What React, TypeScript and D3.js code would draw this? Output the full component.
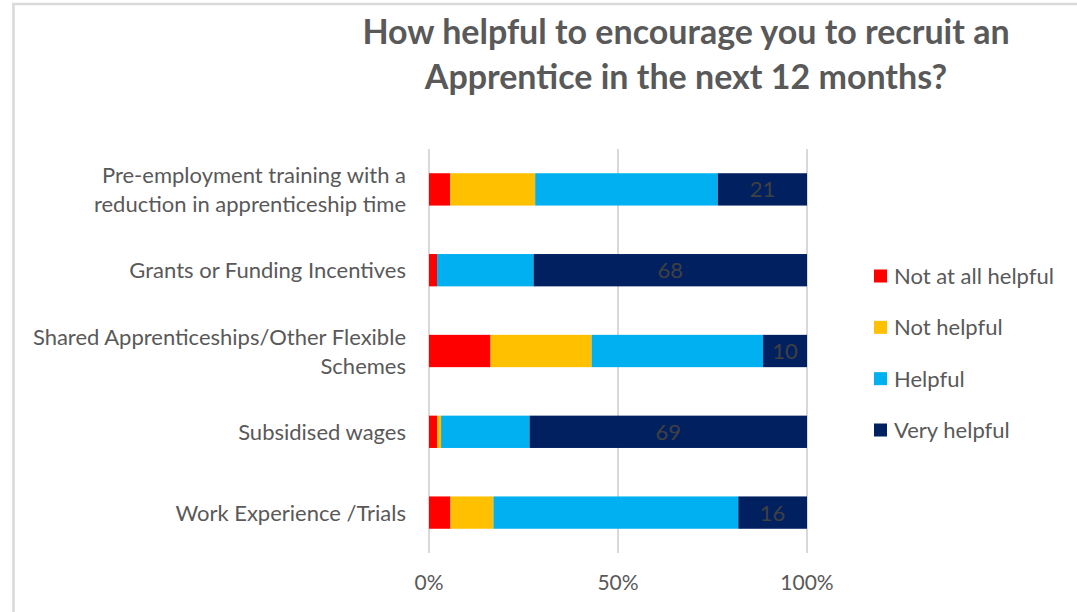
import React from 'react';
import * as d3 from 'd3';

// survey answers (counts) per incentive
const categories = [
  'Pre-employment training with a reduction in apprenticeship time',
  'Grants or Funding Incentives',
  'Shared Apprenticeships/Other Flexible Schemes',
  'Subsidised wages',
  'Work Experience /Trials',
];
const categoryLines = [
  ['Pre-employment training with a', 'reduction in apprenticeship time'],
  ['Grants or Funding Incentives'],
  ['Shared Apprenticeships/Other Flexible', 'Schemes'],
  ['Subsidised wages'],
  ['Work Experience /Trials'],
];
const seriesNames = ['Not at all helpful', 'Not helpful', 'Helpful', 'Very helpful'];
const notAtAllHelpful = [5, 2, 14, 2, 5];
const notHelpful = [20, 0, 23, 1, 10];
const helpful = [43, 24, 39, 22, 57];
const veryHelpful = [21, 68, 10, 69, 16];
const ticks = [0, 0.5, 1];

const colors = ['#FF0000', '#FFC000', '#00B0F0', '#002060'];
const FONT = 'Lato, "Open Sans", sans-serif';
const GRAY = '#595959';

const App = () => {
  const width = 1077;
  const height = 612;

  const rows = categories.map((c, i) => ({
    name: c,
    'Not at all helpful': notAtAllHelpful[i],
    'Not helpful': notHelpful[i],
    Helpful: helpful[i],
    'Very helpful': veryHelpful[i],
  }));

  const stack = d3.stack<any>().keys(seriesNames).offset(d3.stackOffsetExpand);
  const layers = stack(rows);

  const x = d3.scaleLinear().domain([0, 1]).range([429, 807]);
  const y = d3.scaleBand().domain(categories).range([149, 553]).paddingInner(0.6).paddingOuter(0.3);

  const legendY = d3.scalePoint().domain(seriesNames).range([276, 430]);

  return (
    <svg width={width} height={height} style={{ position: 'absolute', left: 0, top: 0, background: '#fff' }} fontFamily={FONT}>
      {/* frame */}
      <line x1={12} x2={width} y1={4} y2={4} stroke="#d9d9d9" strokeWidth={2.5} />
      <line x1={13.5} x2={13.5} y1={4} y2={height} stroke="#d9d9d9" strokeWidth={2.5} />

      {/* title */}
      <text textAnchor="middle" fill={GRAY} fontSize={34} fontWeight="bold">
        <tspan x={686} y={44}>How helpful to encourage you to recruit an</tspan>
        <tspan x={686} y={89}>Apprentice in the next 12 months?</tspan>
      </text>

      {/* gridlines */}
      {ticks.map((t) => (
        <g key={t}>
          <line x1={x(t)} x2={x(t)} y1={149} y2={553} stroke="#d9d9d9" strokeWidth={2} />
          <text x={x(t)} y={590} textAnchor="middle" fontSize={21} fill={GRAY}>
            {d3.format('.0%')(t)}
          </text>
        </g>
      ))}

      {/* bars */}
      {layers.map((layer, li) => (
        <g key={layer.key} fill={colors[li]}>
          {layer.map((d, i) => (
            <rect
              key={i}
              x={x(d[0])}
              y={y(categories[i])}
              width={Math.max(0, x(d[1]) - x(d[0]))}
              height={y.bandwidth()}
            />
          ))}
        </g>
      ))}

      {/* data labels on Very helpful */}
      {layers[3].map((d, i) => (
        <text
          key={i}
          x={(x(d[0]) + x(d[1])) / 2}
          y={(y(categories[i]) as number) + y.bandwidth() / 2 + 8}
          textAnchor="middle"
          fontSize={22}
          fill="#404040"
        >
          {veryHelpful[i]}
        </text>
      ))}

      {/* category labels */}
      {categories.map((c, i) => {
        const cy = (y(c) as number) + y.bandwidth() / 2;
        const lines = categoryLines[i];
        const lh = 29;
        return (
          <text key={c} textAnchor="end" fontSize={22} fill={GRAY}>
            {lines.map((l, j) => (
              <tspan key={j} x={406} y={cy + 8 + (j - (lines.length - 1) / 2) * lh}>
                {l}
              </tspan>
            ))}
          </text>
        );
      })}

      {/* legend */}
      {seriesNames.map((s, i) => (
        <g key={s}>
          <rect x={874} y={(legendY(s) as number) - 6.5} width={13} height={13} fill={colors[i]} />
          <text x={894} y={(legendY(s) as number) + 8} fontSize={22} fill={GRAY}>
            {s}
          </text>
        </g>
      ))}
    </svg>
  );
};

export default App;
